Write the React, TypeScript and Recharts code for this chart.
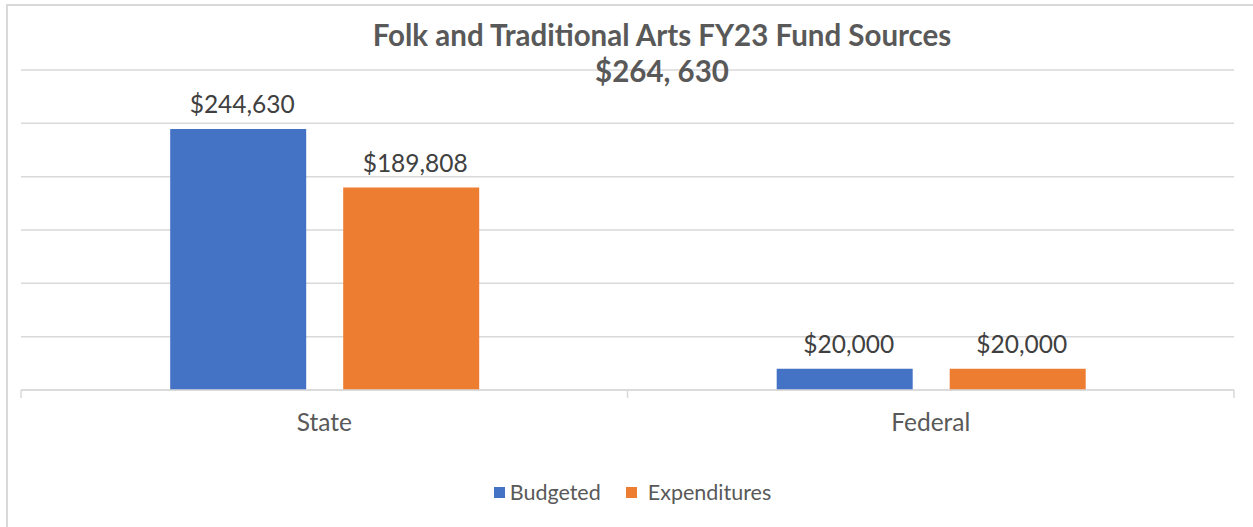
import { Bar, BarChart, CartesianGrid, LabelList, Legend, XAxis, YAxis } from "recharts";

const categories = ["State", "Federal"];
const budgeted = [244630, 20000];
const expenditures = [189808, 20000];
const yTicks = [0, 50000, 100000, 150000, 200000, 250000, 300000];

const data = categories.map((name, i) => ({
  name,
  Budgeted: budgeted[i],
  Expenditures: expenditures[i],
}));

const FONT = "Lato, 'Open Sans', sans-serif";

const money = (v: number) => "$" + v.toLocaleString("en-US");

function CategoryTick(props: any) {
  const { x, y, payload } = props;
  const half = payload?.offset ?? 303;
  return (
    <g>
      <line x1={x - half} y1={y - 8} x2={x - half} y2={y} stroke="#d9d9d9" strokeWidth={1.5} />
      {payload?.index === categories.length - 1 && (
        <line x1={x + half} y1={y - 8} x2={x + half} y2={y} stroke="#d9d9d9" strokeWidth={1.5} />
      )}
      <text x={x} y={y + 33} textAnchor="middle" fill="#595959" fontSize={24.5} fontFamily={FONT}>
        {payload.value}
      </text>
    </g>
  );
}

function LegendContent() {
  const items = [
    { label: "Budgeted", color: "#4472c4", gap: 5 },
    { label: "Expenditures", color: "#ed7d31", gap: 11 },
  ];
  return (
    <div
      style={{
        display: "flex",
        justifyContent: "center",
        alignItems: "center",
        height: 36,
        gap: 25,
        paddingLeft: 10,
        boxSizing: "border-box",
        fontFamily: FONT,
        fontSize: 21.5,
        color: "#595959",
      }}
    >
      {items.map((it) => (
        <div key={it.label} style={{ display: "flex", alignItems: "center", gap: it.gap }}>
          <span style={{ width: 11, height: 11, background: it.color, display: "inline-block" }} />
          <span>{it.label}</span>
        </div>
      ))}
    </div>
  );
}

export default function App() {
  return (
    <div style={{ position: "absolute", left: 0, top: 0, width: 1253, height: 527, background: "#fff", overflow: "hidden" }}>
      <div
        style={{
          position: "absolute",
          left: 6,
          top: 4,
          width: 1250,
          height: 540,
          border: "2px solid #d9d9d9",
          boxSizing: "border-box",
        }}
      />
      <BarChart
        width={1253}
        height={527}
        data={data}
        margin={{ top: 70, right: 19, bottom: 17, left: 21 }}
        barCategoryGap="24.6%"
        barGap={37}
      >
        <CartesianGrid vertical={false} stroke="#d9d9d9" strokeWidth={1.5} />
        <YAxis hide domain={[0, 300000]} ticks={yTicks} />
        <XAxis
          dataKey="name"
          height={84}
          axisLine={{ stroke: "#d9d9d9", strokeWidth: 1.5 }}
          tickLine={false}
          tick={<CategoryTick />}
        />
        <Legend verticalAlign="bottom" height={36} content={<LegendContent />} />
        <Bar dataKey="Budgeted" fill="#4472c4" isAnimationActive={false}>
          <LabelList dataKey="Budgeted" position="top" offset={16} dx={4} formatter={money} fill="#404040" fontSize={24.5} fontFamily={FONT} />
        </Bar>
        <Bar dataKey="Expenditures" fill="#ed7d31" isAnimationActive={false}>
          <LabelList dataKey="Expenditures" position="top" offset={16} dx={4} formatter={money} fill="#404040" fontSize={24.5} fontFamily={FONT} />
        </Bar>
      </BarChart>
      <div
        style={{
          position: "absolute",
          left: 0,
          width: 1324,
          top: 17,
          textAlign: "center",
          fontFamily: FONT,
          fontWeight: 700,
          fontSize: 29.5,
          lineHeight: "36px",
          color: "#595959",
        }}
      >
        <div>Folk and Traditional Arts FY23 Fund Sources</div>
        <div>$264, 630</div>
      </div>
    </div>
  );
}
